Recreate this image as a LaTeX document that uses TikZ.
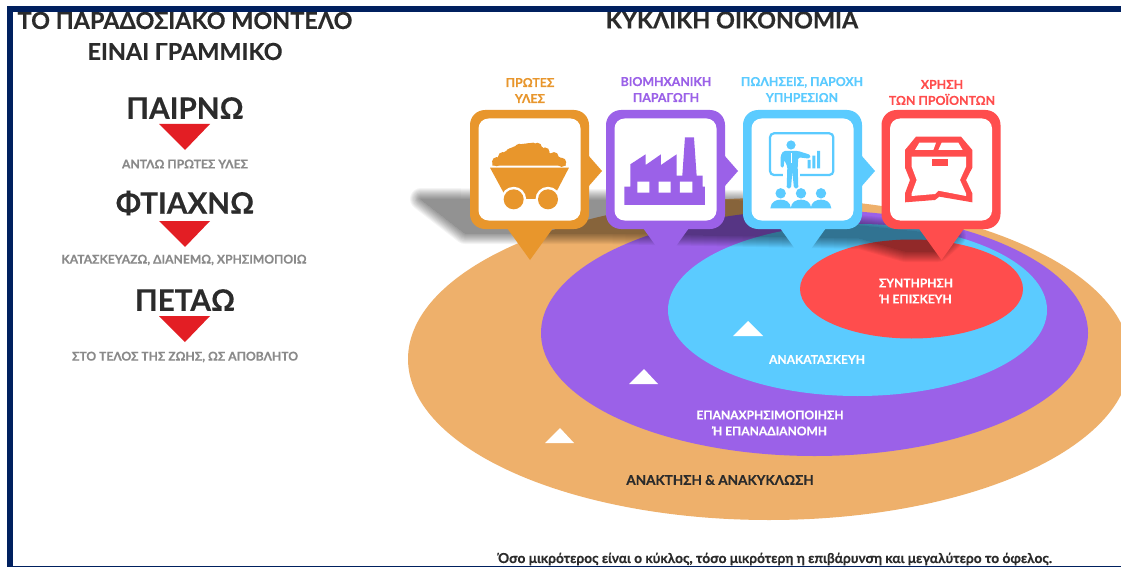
\documentclass[tikz,border=0pt]{standalone}
\usepackage{fontspec}
\setmainfont{Lato}[BoldFeatures={FakeBold=0.3}]
\definecolor{navy}{HTML}{00205F}
\definecolor{cOrange}{HTML}{E8962C}
\definecolor{cTan}{HTML}{EEB06B}
\definecolor{cPurple}{HTML}{9B61E8}
\definecolor{cBlue}{HTML}{5BCBFF}
\definecolor{cRed}{HTML}{FF4D4D}
\definecolor{cTri}{HTML}{E31E24}
\definecolor{cInk}{HTML}{2B2B2B}
\definecolor{cGray}{HTML}{8A8A8A}
\tikzset{
  lab/.style={inner sep=0pt,align=center,font=\bfseries\fontsize{#1}{#1}\selectfont},
  title/.style={inner sep=0pt,align=center,text=cInk,font=\bfseries\fontsize{23.4}{31}\selectfont},
  verb/.style={inner sep=0pt,text=cInk,font=\bfseries\fontsize{29.6}{29}\selectfont},
  small/.style={inner sep=0pt,text=cGray,font=\bfseries\fontsize{12.1}{12}\selectfont},
  stage/.style={inner sep=0pt,align=center,font=\bfseries\fontsize{12.3}{16}\selectfont},
  ring/.style={inner sep=0pt,align=center,font=\bfseries\fontsize{12}{16}\selectfont},
  down/.style={fill=cTri},
  up/.style={fill=white}
}
\newcommand{\pinbox}[3]{% left x, colour, arrow?
  \fill[#2,rounded corners=15pt] (#1,110) rectangle ++(119,119);
  \fill[#2] (#1+37,228) -- (#1+60,260) -- (#1+83,228) -- cycle;
  \ifnum#3=1 \fill[#2] (#1+118,155) -- (#1+132,171) -- (#1+118,187) -- cycle;\fi
  \fill[white,rounded corners=10pt] (#1+8.5,118.5) rectangle ++(102,102);
}
\begin{document}
\begin{tikzpicture}[x=1pt,y=-1pt]
\useasboundingbox (0,0) rectangle (1121,567);
\fill[white] (0,0) rectangle (1121,567);
% rings
\fill[cTan] (769,359) ellipse [x radius=361,y radius=161];
\fill[cPurple] (814.5,333) ellipse [x radius=273.5,y radius=123];
\fill[cBlue] (857.5,310) ellipse [x radius=189.5,y radius=86];
\fill[cRed] (911.5,289) ellipse [x radius=111.5,y radius=49.5];
% shadow
\foreach \w in {0,2,...,22}{
  \begin{scope}[transparency group,opacity=.045]
  \draw[black,fill=black,line width=\w pt,line join=round]
    (421,199) -- (740,201) -- (860,226) -- (955,236) -- (938,251) -- (905,251)
    -- (860,238) -- (600,233) -- (465,233) -- cycle;
  \end{scope}
}
% white markers
\fill[up] (733,336) -- (748,321) -- (763,336) -- cycle;
\fill[up] (629,384) -- (644,369) -- (658,384) -- cycle;
\fill[up] (545,443) -- (560,428) -- (574,443) -- cycle;
% pin boxes
\pinbox{470}{cOrange}{1}
\pinbox{606}{cPurple}{1}
\pinbox{743}{cBlue}{1}
\pinbox{881.5}{cRed}{0}
% wagon
\begin{scope}[xshift=480pt,yshift=-130pt,x=.3333pt,y=-.3333pt]
  \fill[cOrange] (37,107) -- (38,92) -- (50,85) -- (70,68) -- (90,55) -- (118,43) -- (160,38) -- (188,52) -- (207,68) -- (240,82) -- (252,90) -- (258,107) -- cycle;
  \foreach \a/\b in {50/95,68/80,92/68,118/55,147/53,172/52,195/66,222/80,245/97}
    \fill[cOrange] (\a,\b) circle [radius=4.6pt];
  \fill[cOrange] (30,113) -- (267,113) -- (218,207) -- (81,207) -- cycle;
  \fill[white] (101,208) circle [radius=12.5pt] (204,208) circle [radius=12.5pt];
  \fill[cOrange] (101,208) circle [radius=10pt] (204,208) circle [radius=10pt];
\end{scope}
% factory
\begin{scope}[xshift=400pt,yshift=0pt,x=.3333pt,y=-.3333pt]
  \fill[cPurple] (673,560) -- (691,560) -- (691,493) -- (737,463) -- (737,495) -- (783,463) -- (783,495) -- (830,463) -- (830,527) -- (847,527) -- (855,412) -- (882,412) -- (890,527) -- (908,527) -- (908,560) -- (915,560) -- (915,615) -- (673,615) -- cycle;
  \fill[white] (712,545) rectangle (748,578) (776,545) rectangle (812,578) (840,545) rectangle (877,578);
\end{scope}
% presenter
\begin{scope}[xshift=755pt,yshift=-125pt,x=.3333pt,y=-.3333pt]
  \draw[cBlue,line width=2.2pt,rounded corners=4pt] (45,25) rectangle (235,150);
  \fill[white] (85,140) rectangle (135,160);
  \fill[cBlue] (108,60) circle [radius=4.6pt];
  \fill[cBlue,rounded corners=1.5pt] (85,78) -- (130,78) -- (167,90) -- (164,101) -- (130,97) -- (128,125) -- (130,190) -- (117,190) -- (112,140) -- (108,190) -- (95,190) -- (97,125) -- (88,105) -- (86,128) -- (77,128) -- (77,92) -- cycle;
  \draw[white,line width=.8pt] (110,85) -- (110,115);
  \fill[cBlue] (158,105) rectangle (167,130) (172,92) rectangle (181,130) (186,78) rectangle (195,130);
  \foreach \c in {77,138,198}{
    \fill[cBlue] (\c,205) circle [radius=5.2pt];
    \fill[cBlue] (\c-31,250) .. controls (\c-29,230) and (\c-14,224) .. (\c,224) .. controls (\c+14,224) and (\c+29,230) .. (\c+31,250) -- cycle;
  }
\end{scope}
% parcel
\begin{scope}[xshift=890pt,yshift=-125pt,x=.3333pt,y=-.3333pt]
  \fill[cRed] (78,35) -- (213,35) -- (247,75) -- (247,128) -- (228,165) -- (247,205) -- (247,232) -- (148,215) -- (135,225) -- (45,232) -- (45,205) -- (60,165) -- (45,128) -- (45,75) -- cycle;
  \fill[white] (88,53) -- (138,53) -- (130,75) -- (75,75) -- cycle;
  \fill[white] (155,53) -- (205,53) -- (218,75) -- (145,75) -- cycle;
  \fill[white] (65,95) -- (228,95) -- (228,125) -- (210,165) -- (228,205) -- (228,213) -- (145,197) -- (135,207) -- (65,213) -- (65,205) -- (80,165) -- (65,125) -- cycle;
  \fill[cRed] (125,103) rectangle (175,122);
\end{scope}
% left column
\node[title] (t1) at (185,36) {ΤΟ ΠΑΡΑΔΟΣΙΑΚΟ ΜΟΝΤΕΛΟ\\ΕΙΝΑΙ ΓΡΑΜΜΙΚΟ};
\node[verb] (v1) at (185,108) {ΠΑΙΡΝΩ};
\fill[down] (159,124) -- (210,124) -- (185,150) -- cycle;
\node[small] (s1) at (185,164) {ΑΝΤΛΩ ΠΡΩΤΕΣ ΥΛΕΣ};
\node[verb] (v2) at (185,203) {ΦΤΙΑΧΝΩ};
\fill[down] (159,221) -- (210,221) -- (185,247) -- cycle;
\node[small] (s2) at (184,260) {ΚΑΤΑΣΚΕΥΑΖΩ, ΔΙΑΝΕΜΩ, ΧΡΗΣΙΜΟΠΟΙΩ};
\node[verb] (v3) at (185,300) {ΠΕΤΑΩ};
\fill[down] (159,316) -- (210,316) -- (185,342) -- cycle;
\node[small] (s3) at (185,357) {ΣΤΟ ΤΕΛΟΣ ΤΗΣ ΖΩΗΣ, ΩΣ ΑΠΟΒΛΗΤΟ};
% right header
\node[title] (t2) at (732,20) {ΚΥΚΛΙΚΗ ΟΙΚΟΝΟΜΙΑ};
\node[stage,text=cOrange] (a) at (530,90.5) {ΠΡΩΤΕΣ\\ΥΛΕΣ};
\node[stage,text=cPurple] (b) at (666,89.5) {ΒΙΟΜΗΧΑΝΙΚΗ\\ΠΑΡΑΓΩΓΗ};
\node[stage,text=cBlue] (c) at (802,89.5) {ΠΩΛΗΣΕΙΣ, ΠΑΡΟΧΗ\\ΥΠΗΡΕΣΙΩΝ};
\node[stage,text=cRed] (d) at (942,92.5) {ΧΡΗΣΗ\\ΤΩΝ ΠΡΟΪΟΝΤΩΝ};
\node[ring,text=white] (e) at (916,291) {ΣΥΝΤΗΡΗΣΗ\\Ή ΕΠΙΣΚΕΥΗ};
\node[ring,text=white] (f) at (817,359.5) {ΑΝΑΚΑΤΑΣΚΕΥΗ};
\node[ring,text=white] (g) at (770,423) {ΕΠΑΝΑΧΡΗΣΙΜΟΠΟΙΗΣΗ\\Ή ΕΠΑΝΑΔΙΑΝΟΜΗ};
\node[lab=13.5,text=cInk] (h) at (720,480) {ΑΝΑΚΤΗΣΗ \& ΑΝΑΚΥΚΛΩΣΗ};
\node[lab=13.7,text=cInk] (i) at (775,559) {Όσο μικρότερος είναι ο κύκλος, τόσο μικρότερη η επιβάρυνση και μεγαλύτερο το όφελος.};
% frame
\fill[white] (0,0) rectangle (1121,6);
\fill[navy] (7,6) rectangle (1121,12);
\fill[navy] (7,6) rectangle (13,567);
\fill[navy] (7,566) rectangle (1121,567);
\end{tikzpicture}
\end{document}
